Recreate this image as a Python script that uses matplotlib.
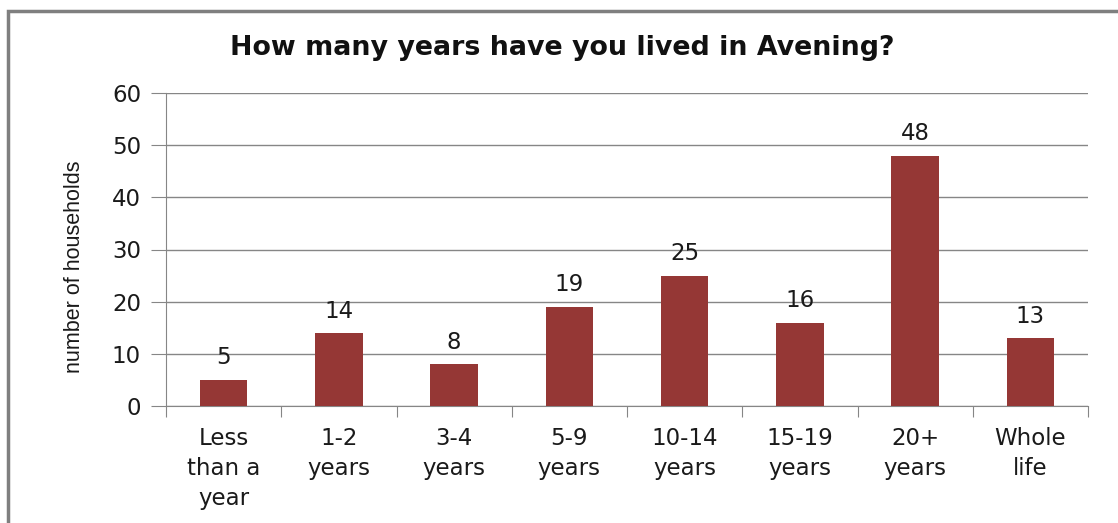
import matplotlib.pyplot as plt
import numpy as np

# --- Data ---
categories = ["Less\nthan a\nyear", "1-2\nyears", "3-4\nyears", "5-9\nyears",
              "10-14\nyears", "15-19\nyears", "20+\nyears", "Whole\nlife"]
households = [5, 14, 8, 19, 25, 16, 48, 13]

BAR_COLOR = "#953735"
GRID_COLOR = "#868686"
TEXT_COLOR = "#1a1a1a"

plt.rcParams['font.family'] = ['DejaVu Sans']

fig = plt.figure(figsize=(11.18, 5.23), dpi=100)
ax = fig.add_axes([166 / 1118, 1 - 406 / 523, (1088 - 166) / 1118, (406 - 93) / 523])

x = np.arange(len(categories))
ax.bar(x, households, width=0.41, color=BAR_COLOR, zorder=3)

# value labels above bars
for xi, v in zip(x, households):
    ax.text(xi, v + 2.0, str(v), ha='center', va='bottom', fontsize=16.5, color=TEXT_COLOR)

ax.set_xlim(-0.5, len(categories) - 0.5)
ax.set_ylim(0, 60)
ax.set_yticks(range(0, 61, 10))
ax.tick_params(axis='y', labelsize=16.5, length=11, color=GRID_COLOR, labelcolor=TEXT_COLOR, pad=7)

# category boundary ticks on x axis
ax.set_xticks(np.arange(-0.5, len(categories), 1.0))
ax.set_xticklabels([])
ax.set_xticks(x, minor=True)
ax.set_xticklabels(categories, minor=True, fontsize=16.5, color=TEXT_COLOR, linespacing=1.4)
ax.tick_params(axis='x', which='major', length=8, color=GRID_COLOR)
ax.tick_params(axis='x', which='minor', length=0, pad=15)

ax.grid(axis='y', color=GRID_COLOR, lw=1, zorder=0)
for side in ['top', 'right']:
    ax.spines[side].set_visible(False)
ax.spines['left'].set_color(GRID_COLOR)
ax.spines['bottom'].set_color(GRID_COLOR)

ax.set_ylabel("number of households", fontsize=15.5, color=TEXT_COLOR,
              family=['Liberation Sans', 'DejaVu Sans'])
ax.yaxis.set_label_coords(-0.088, 0.444)

fig.text(0.503, 1 - 48 / 523, "How many years have you lived in Avening?",
         ha='center', va='center', fontsize=19.4, fontweight='bold', color='#111111')

# outer chart border (partially cropped in the original)
border = plt.Rectangle((8 / 1118, -0.05), 1.2, 1 - 11 / 523 + 0.05, transform=fig.transFigure,
                       fill=False, edgecolor='#7f7f7f', lw=2.5)
fig.patches.append(border)

fig.savefig("out.png", dpi=100)
